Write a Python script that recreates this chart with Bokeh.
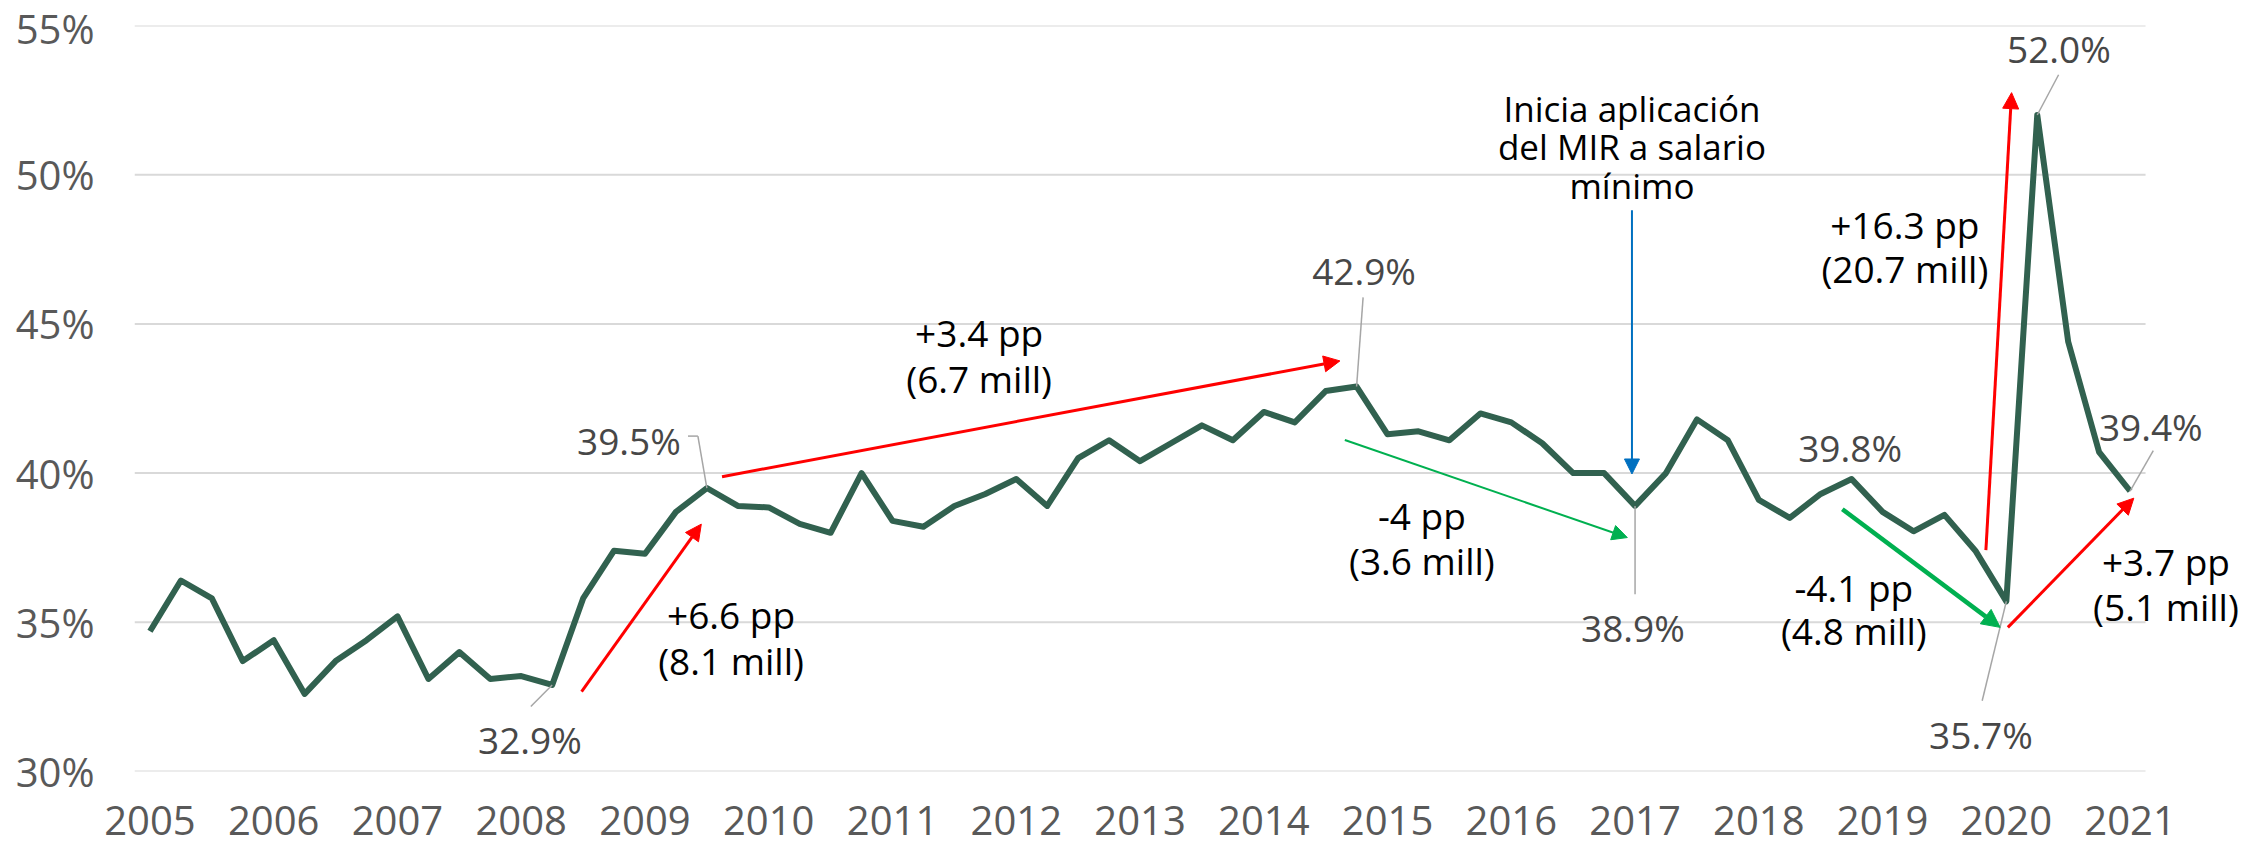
from bokeh.plotting import figure
from bokeh.models import Range1d, FixedTicker, PrintfTickFormatter, Label, Arrow, NormalHead
from bokeh.embed import file_html
from bokeh.resources import INLINE

# ---------------- data ----------------
years = ["2005", "2006", "2007", "2008", "2009", "2010", "2011", "2012", "2013",
         "2014", "2015", "2016", "2017", "2018", "2019", "2020", "2021"]
quarters_per_year = 4

# quarterly share (%), 2005-T1 ... 2021-T1
values = [
    34.7, 36.4, 35.8, 33.7,   # 2005
    34.4, 32.6, 33.7, 34.4,   # 2006
    35.2, 33.1, 34.0, 33.1,   # 2007
    33.2, 32.9, 35.8, 37.4,   # 2008
    37.3, 38.7, 39.5, 38.9,   # 2009
    38.85, 38.3, 38.0, 40.0,  # 2010
    38.4, 38.2, 38.9, 39.3,   # 2011
    39.8, 38.9, 40.5, 41.1,   # 2012
    40.4, 41.0, 41.6, 41.1,   # 2013
    42.05, 41.7, 42.75, 42.9, # 2014
    41.3, 41.4, 41.1, 42.0,   # 2015
    41.7, 41.0, 40.0, 40.0,   # 2016
    38.9, 40.0, 41.8, 41.1,   # 2017
    39.1, 38.5, 39.3, 39.8,   # 2018
    38.7, 38.05, 38.6, 37.4,  # 2019
    35.7, 52.0, 44.4, 40.7,   # 2020
    39.4,                     # 2021
]
y_ticks = [30, 35, 40, 45, 50, 55]

# indices of the labelled points
i_2008_low, i_2009_peak, i_2014_peak, i_2017_low = 13, 18, 39, 48
i_2018_peak, i_2020_low, i_2020_peak, i_2021 = 55, 60, 61, 64

x = list(range(len(values)))
n = len(values)

# ---------------- styles ----------------
FONT = "Open Sans"
LINE_COLOR = "#31614F"
TICK_COLOR = "#595959"
PCT_COLOR = "#474747"
CONN_COLOR = "#a6a6a6"
RED = "#FF0000"
GREEN = "#00B050"
BLUE = "#0070C0"

# frame extends to the right page edge so that the right-hand notes are not clipped
p = figure(width=2262, height=845,
           x_range=Range1d(-0.5, n - 0.5 + 3.78),
           y_range=Range1d(y_ticks[0], y_ticks[-1]),
           output_backend="svg", toolbar_location=None,
           min_border_left=134, min_border_right=0,
           min_border_top=25, min_border_bottom=74)
p.outline_line_color = None
p.background_fill_color = "white"
p.border_fill_color = "white"

# horizontal grid lines (only across the data span)
p.segment(x0=[-0.5] * len(y_ticks), y0=y_ticks, x1=[n - 0.5] * len(y_ticks), y1=y_ticks,
          line_color="#d9d9d9", line_width=2)

p.line(x, values, line_color=LINE_COLOR, line_width=6, line_join="round")

# axes
p.xaxis.ticker = FixedTicker(ticks=[k * quarters_per_year for k in range(len(years))])
p.xaxis.major_label_overrides = {k * quarters_per_year: yr for k, yr in enumerate(years)}
p.yaxis.ticker = FixedTicker(ticks=y_ticks)
p.yaxis.formatter = PrintfTickFormatter(format="%d%%")
for ax in (p.xaxis[0], p.yaxis[0]):
    ax.axis_line_color = None
    ax.major_tick_line_color = None
    ax.minor_tick_line_color = None
    ax.major_tick_in = 0
    ax.major_tick_out = 0
    ax.minor_tick_in = 0
    ax.minor_tick_out = 0
    ax.major_label_text_font = FONT
    ax.major_label_text_font_size = "40px"
    ax.major_label_text_color = TICK_COLOR
p.yaxis.major_label_standoff = 40
p.xaxis.major_label_standoff = 34

p.xgrid.visible = False
p.ygrid.visible = False


def label(xp, yp, text, color="black", size=37):
    p.add_layout(Label(x=xp, y=yp, text=text, text_align="center",
                       text_baseline="middle", text_color=color,
                       text_font=FONT, text_font_size=f"{size}px"))


def arrow(x0, y0, x1, y1, color, width, head=None):
    end = NormalHead(size=head, fill_color=color, line_color=color, line_width=1) if head else None
    p.add_layout(Arrow(x_start=x0, y_start=y0, x_end=x1, y_end=y1,
                       line_color=color, line_width=width, end=end))


def pct(i):
    return f"{values[i]:.1f}%"


# ---- labelled points with connectors ----
label(12.28, 31.06, pct(i_2008_low), PCT_COLOR)
arrow(12.31, 32.18, i_2008_low, values[i_2008_low], CONN_COLOR, 1.5)

label(15.48, 41.08, pct(i_2009_peak), PCT_COLOR)
arrow(17.39, 41.24, 17.71, 41.24, CONN_COLOR, 1.5)
arrow(17.71, 41.24, i_2009_peak, values[i_2009_peak], CONN_COLOR, 1.5)

label(39.24, 46.78, pct(i_2014_peak), PCT_COLOR)
arrow(39.21, 45.89, i_2014_peak, values[i_2014_peak], CONN_COLOR, 1.5)

label(47.93, 34.82, pct(i_2017_low), PCT_COLOR)
arrow(i_2017_low, 35.94, i_2017_low, values[i_2017_low], CONN_COLOR, 1.5)

label(54.95, 40.85, pct(i_2018_peak), PCT_COLOR)

label(59.18, 31.25, pct(i_2020_low), PCT_COLOR)
arrow(59.22, 32.37, i_2020_low, values[i_2020_low], CONN_COLOR, 1.5)

label(61.70, 54.24, pct(i_2020_peak), PCT_COLOR)
arrow(61.69, 53.35, i_2020_peak, values[i_2020_peak], CONN_COLOR, 1.5)

label(64.67, 41.57, pct(i_2021), PCT_COLOR)
arrow(64.75, 40.75, i_2021, values[i_2021], CONN_COLOR, 1.5)

# ---- change arrows and texts ----
arrow(13.95, 32.68, 17.82, 38.29, RED, 3, 16)
label(18.78, 35.25, "+6.6 pp")
label(18.78, 33.71, "(8.1 mill)")

arrow(18.49, 39.88, 38.46, 43.76, RED, 3, 16)
label(26.8, 44.70, "+3.4 pp")
label(26.8, 43.16, "(6.7 mill)")

arrow(38.62, 41.11, 47.75, 37.84, GREEN, 2, 15)
label(41.11, 38.57, "-4 pp")
label(41.11, 37.06, "(3.6 mill)")

arrow(47.9, 48.81, 47.9, 39.97, BLUE, 2, 15)
label(47.9, 52.22, "Inicia aplicación", size=35)
label(47.9, 50.93, "del MIR a salario", size=35)
label(47.9, 49.64, "mínimo", size=35)

arrow(59.34, 37.42, 60.17, 52.75, RED, 3, 16)
label(56.72, 48.33, "+16.3 pp")
label(56.72, 46.85, "(20.7 mill)")

arrow(54.70, 38.79, 59.80, 34.83, GREEN, 4.5, 18)
label(55.07, 36.16, "-4.1 pp")
label(55.07, 34.72, "(4.8 mill)")

arrow(60.05, 34.83, 64.12, 39.16, RED, 3, 16)
label(65.16, 37.03, "+3.7 pp")
label(65.16, 35.52, "(5.1 mill)")

open("out.html", "w").write(file_html(p, INLINE))
